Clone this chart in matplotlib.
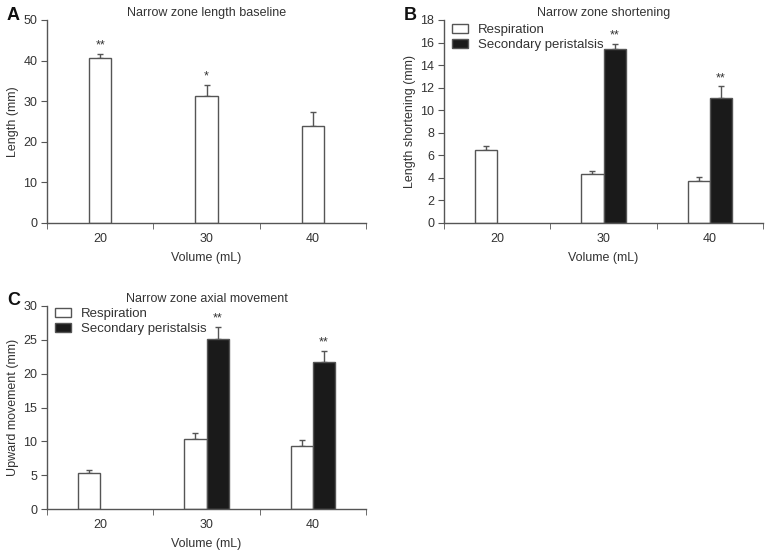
import numpy as np
import matplotlib.pyplot as plt
from matplotlib.patches import Patch

plt.rcParams['font.family'] = ['Liberation Sans', 'DejaVu Sans']
plt.rcParams['font.size'] = 9

volumes = ["20", "30", "40"]

# panel A - baseline length
base_len = [40.7, 31.3, 24.0]
base_err = [0.9, 2.8, 3.3]
base_sig = ["**", "*", ""]

# panel B - shortening
short_resp = [6.45, 4.35, 3.7]
short_resp_err = [0.4, 0.3, 0.42]
short_sec = [np.nan, 15.43, 11.12]
short_sec_err = [0, 0.45, 1.0]
short_sig = ["", "**", "**"]

# panel C - axial movement
axial_resp = [5.3, 10.35, 9.25]
axial_resp_err = [0.45, 0.95, 1.0]
axial_sec = [np.nan, 25.15, 21.7]
axial_sec_err = [0, 1.7, 1.7]
axial_sig = ["", "**", "**"]

edge = '#555555'
txt = '#333333'
W = 0.21


def style_axes(ax, ymax, ystep, ylabel, title):
    ax.set_xlim(0.5, 3.5)
    ax.set_ylim(0, ymax)
    ax.set_yticks(np.arange(0, ymax + 0.01, ystep))
    ax.set_xticks([1, 2, 3])
    ax.set_xticklabels(volumes)
    ax.set_xticks([0.5, 1.5, 2.5, 3.5], minor=True)
    ax.tick_params(axis='x', which='major', length=0, pad=7, colors=txt)
    ax.tick_params(axis='x', which='minor', length=4, color=edge, direction='out')
    ax.tick_params(axis='y', length=4, color=edge, colors=txt, pad=3)
    for s in ['top', 'right']:
        ax.spines[s].set_visible(False)
    for s in ['left', 'bottom']:
        ax.spines[s].set_color(edge)
        ax.spines[s].set_linewidth(1.0)
    ax.set_xlabel("Volume (mL)", color=txt, labelpad=5)
    ax.set_ylabel(ylabel, color=txt, labelpad=3)
    ax.set_title(title, color=txt, fontsize=9, pad=3)


def bars(ax, pos, vals, errs, color):
    ax.bar(pos, vals, width=W, color=color, edgecolor=edge, linewidth=1.0, zorder=2)
    low = [0] * len(vals)
    ax.errorbar(pos, vals, yerr=[low, errs], fmt='none', ecolor=edge,
                elinewidth=1.0, capsize=2.5, capthick=1.0, zorder=1)


def stars(ax, pos, vals, errs, sig, off):
    for p, v, e, s in zip(pos, vals, errs, sig):
        if s:
            ax.text(p, v + e + off, s, ha='center', va='bottom', color=txt, fontsize=9)


fig = plt.figure(figsize=(7.76, 5.54), dpi=100)
axA = fig.add_axes([47 / 776, 1 - 223 / 554, 319 / 776, 203 / 554])
axB = fig.add_axes([444 / 776, 1 - 223 / 554, 319 / 776, 203 / 554])
axC = fig.add_axes([47 / 776, 1 - 509 / 554, 319 / 776, 203 / 554])

x = np.arange(1, 4)

# A
bars(axA, x, base_len, base_err, 'white')
stars(axA, x, base_len, base_err, base_sig, 0.6)
style_axes(axA, 50, 10, "Length (mm)", "Narrow zone length baseline")

# B
bars(axB, x - W / 2, short_resp, short_resp_err, 'white')
bars(axB, x + W / 2, short_sec, short_sec_err, '#1a1a1a')
stars(axB, x + W / 2, short_sec, short_sec_err, short_sig, 0.2)
style_axes(axB, 18, 2, "Length shortening (mm)", "Narrow zone shortening")

# C
bars(axC, x - W / 2, axial_resp, axial_resp_err, 'white')
bars(axC, x + W / 2, axial_sec, axial_sec_err, '#1a1a1a')
stars(axC, x + W / 2, axial_sec, axial_sec_err, axial_sig, 0.4)
style_axes(axC, 30, 5, "Upward movement (mm)", "Narrow zone axial movement")

# panel letters
for lx, ly, letter in [(7, 7, "A"), (404, 7, "B"), (7, 292, "C")]:
    fig.text(lx / 776, 1 - ly / 554, letter, fontsize=13, fontweight='bold',
             color='#111111', ha='left', va='top')

handles = [Patch(facecolor='white', edgecolor=edge, label='Respiration'),
           Patch(facecolor='#1a1a1a', edgecolor=edge, label='Secondary peristalsis')]
for ax, top in ((axB, 1.02), (axC, 1.03)):
    leg = ax.legend(handles=handles, loc='upper left', bbox_to_anchor=(0.0, top),
                    frameon=False, fontsize=9.5, handlelength=1.25, handleheight=0.7,
                    handletextpad=0.7, labelspacing=0.2, borderaxespad=0.2)
    for t in leg.get_texts():
        t.set_color(txt)

fig.savefig("out.png", dpi=100)
